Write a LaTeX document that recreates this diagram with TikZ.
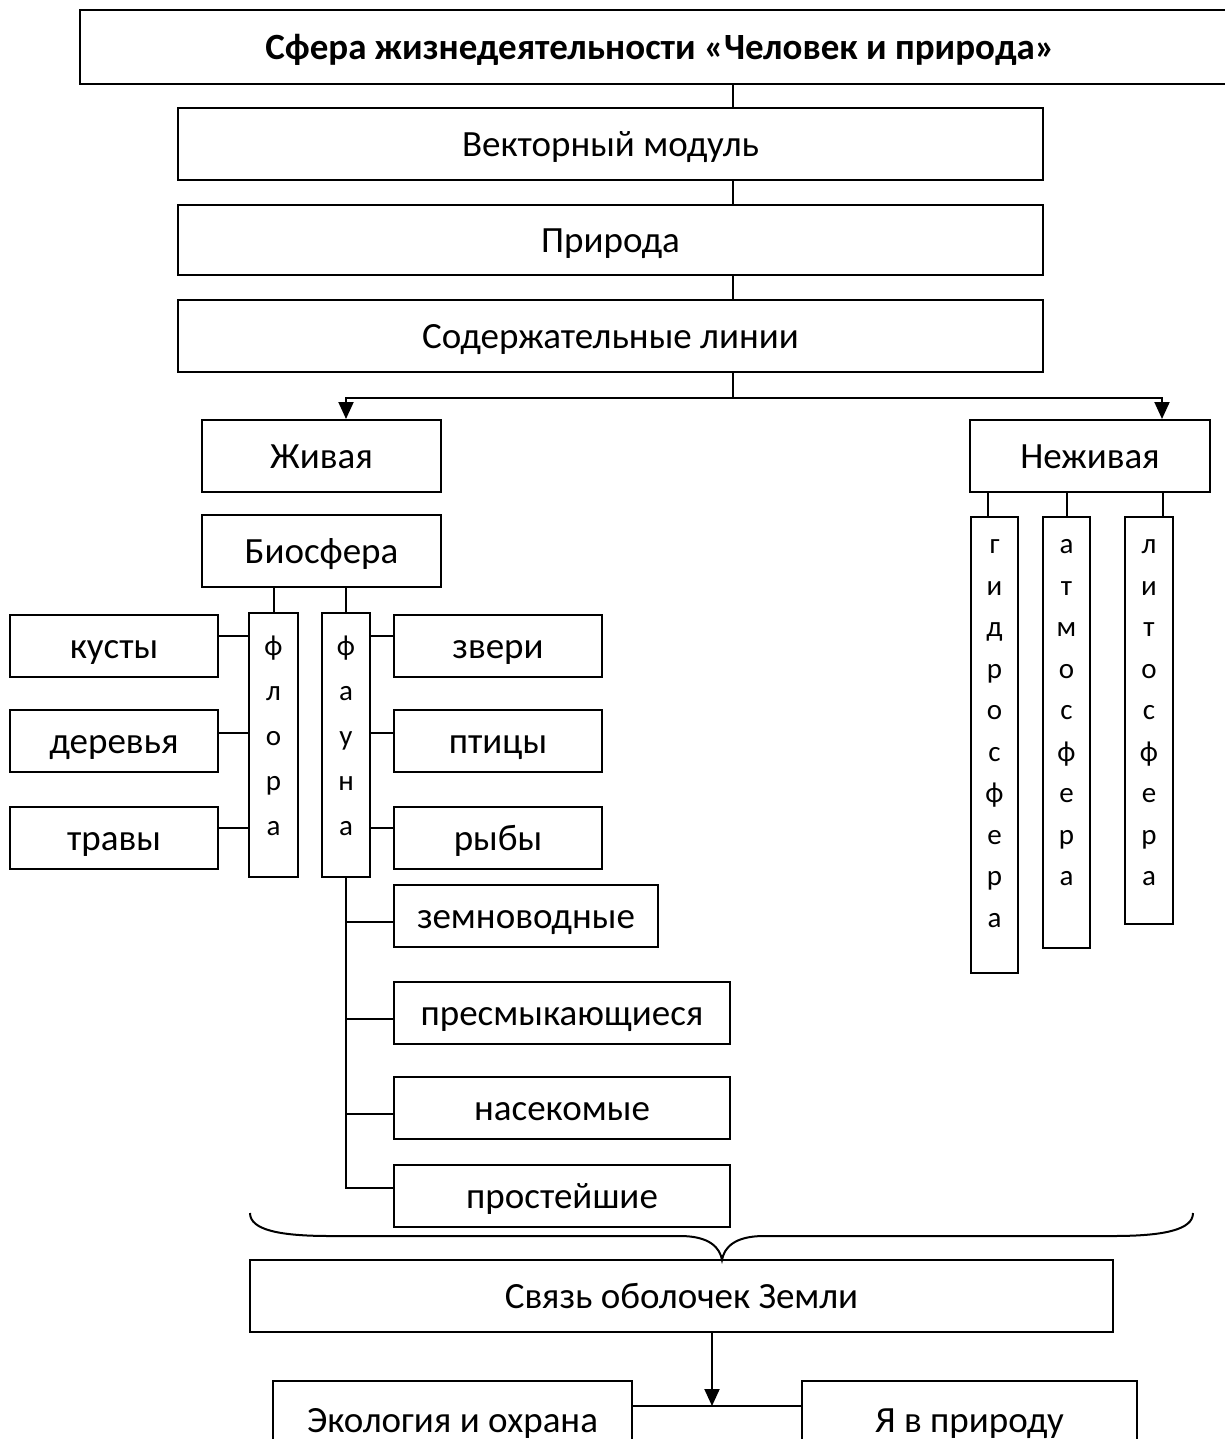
\documentclass[tikz,border=0pt]{standalone}
\usepackage{fontspec}
\setmainfont{Carlito}
\usetikzlibrary{arrows.meta}

\begin{document}
\begin{tikzpicture}[x=0.5pt,y=-0.5pt,line width=1pt]
\tikzstyle{every node}+=[font=\fontsize{18.5}{22}\selectfont]
\tikzstyle{box}=[draw,rectangle,inner sep=0pt,text height=15.5pt,text depth=3pt]
\tikzstyle{vbox}=[draw,rectangle,inner sep=0pt]
\tikzstyle{letters}=[align=center,inner sep=0pt,anchor=north,font=\fontsize{14.5}{22.5}\selectfont]
\tikzstyle{arr}=[-{Triangle[length=8.5pt,width=7.5pt]}]
\fill[white] (0,0) rectangle (1225,1439);
\useasboundingbox (0,0) rectangle (1225,1439);
% top chain
\node[box,minimum width=580pt,minimum height=37pt,font=\bfseries\fontsize{18.5}{22}\selectfont] (sfera) at (660,47) {Сфера жизнедеятельности «Человек и природа»};
\node[box,minimum width=432.5pt,minimum height=36pt] (vector) at (610.5,144) {Векторный модуль};
\node[box,minimum width=432.5pt,minimum height=35pt] (priroda) at (610.5,240) {Природа};
\node[box,minimum width=432.5pt,minimum height=36pt] (linii) at (610.5,336) {Содержательные линии};
\coordinate (fork) at (733,398);
\draw (sfera.south -| fork) -- (vector.north -| fork);
\draw (vector.south -| fork) -- (priroda.north -| fork);
\draw (priroda.south -| fork) -- (linii.north -| fork);
\draw (linii.south -| fork) -- (fork);
% two branches
\node[box,minimum width=119.5pt,minimum height=36pt] (zhivaya) at (321.5,456) {Живая};
\node[box,minimum width=120pt,minimum height=36pt] (nezhivaya) at (1090,456) {Неживая};
\draw[arr] (fork) -| ([xshift=12.25pt]zhivaya.north);
\draw[arr] (fork) -| ([xshift=36pt]nezhivaya.north);
% biosphere
\node[box,minimum width=119.5pt,minimum height=36pt] (bio) at (321.5,551) {Биосфера};
\node[vbox,minimum width=24.5pt,minimum height=132pt,
  label={[letters,label distance=-5.25pt,font=\fontsize{14.5}{22.5}\selectfont]north:\strut ф\\л\\о\\р\\а}] (flora) at (273.5,745) {};
\node[vbox,minimum width=24pt,minimum height=132pt,
  label={[letters,label distance=-5.25pt,font=\fontsize{14.5}{22.5}\selectfont]north:\strut ф\\а\\у\\н\\а}] (fauna) at (346,745) {};
\draw (flora.north) -- (flora.north |- bio.south);
\draw (fauna.north) -- (fauna.north |- bio.south);
% flora
\node[box,minimum width=104pt,minimum height=31pt] (kusty) at (114,646) {кусты};
\node[box,minimum width=104pt,minimum height=31pt] (derevya) at (114,741) {деревья};
\node[box,minimum width=104pt,minimum height=31pt] (travy) at (114,838) {травы};
\draw ([yshift=5pt]kusty.east) -- ([yshift=5pt]kusty.east -| flora.west);
\draw ([yshift=4pt]derevya.east) -- ([yshift=4pt]derevya.east -| flora.west);
\draw ([yshift=5pt]travy.east) -- ([yshift=5pt]travy.east -| flora.west);
% fauna
\node[box,minimum width=104pt,minimum height=31pt] (zveri) at (498,646) {звери};
\node[box,minimum width=104pt,minimum height=31pt] (ptitsy) at (498,741) {птицы};
\node[box,minimum width=104pt,minimum height=31pt] (ryby) at (498,838) {рыбы};
\draw ([yshift=5pt]zveri.west) -- ([yshift=5pt]zveri.west -| fauna.east);
\draw ([yshift=4pt]ptitsy.west) -- ([yshift=4pt]ptitsy.west -| fauna.east);
\draw ([yshift=5pt]ryby.west) -- ([yshift=5pt]ryby.west -| fauna.east);
\node[box,minimum width=132pt,minimum height=31pt] (zemno) at (526,916) {земноводные};
\node[box,minimum width=168pt,minimum height=31pt] (presmyk) at (562,1013) {пресмыкающиеся};
\node[box,minimum width=168pt,minimum height=31pt] (nasek) at (562,1108) {насекомые};
\node[box,minimum width=168pt,minimum height=31pt] (prost) at (562,1196) {простейшие};
\draw (fauna.south) |- ([yshift=4pt]prost.west);
\draw ([yshift=-3pt]zemno.west) -- ([yshift=-3pt]zemno.west -| fauna.south);
\draw ([yshift=-3pt]presmyk.west) -- ([yshift=-3pt]presmyk.west -| fauna.south);
\draw ([yshift=-3pt]nasek.west) -- ([yshift=-3pt]nasek.west -| fauna.south);
% non-living
\node[vbox,minimum width=23.5pt,minimum height=228pt,
  label={[letters,label distance=-3.9pt,font=\fontsize{14.5}{20.75}\selectfont]north:\strut г\\и\\д\\р\\о\\с\\ф\\е\\р\\а}] (gidro) at (994.5,745) {};
\node[vbox,minimum width=23.5pt,minimum height=215.5pt,
  label={[letters,label distance=-3.9pt,font=\fontsize{14.5}{20.75}\selectfont]north:\strut а\\т\\м\\о\\с\\ф\\е\\р\\а}] (atmo) at (1066.5,732.5) {};
\node[vbox,minimum width=24pt,minimum height=203.5pt,
  label={[letters,label distance=-3.9pt,font=\fontsize{14.5}{20.75}\selectfont]north:\strut л\\и\\т\\о\\с\\ф\\е\\р\\а}] (lito) at (1149,720.5) {};
\draw ([xshift=-3.25pt]gidro.north) -- ([xshift=-3.25pt]gidro.north |- nezhivaya.south);
\draw (atmo.north) -- (atmo.north |- nezhivaya.south);
\draw ([xshift=7pt]lito.north) -- ([xshift=7pt]lito.north |- nezhivaya.south);
% brace
\draw (250,1213) .. controls (250,1230) and (280,1236) .. (330,1236) -- (680,1236)
  .. controls (710,1236) and (720,1248) .. (722,1260)
  .. controls (724,1248) and (734,1236) .. (764,1236) -- (1113,1236)
  .. controls (1163,1236) and (1193,1230) .. (1193,1213);
% bottom
\node[box,minimum width=431.5pt,minimum height=36pt] (svyaz) at (681.5,1296) {Связь оболочек Земли};
\node[box,minimum width=179.5pt,minimum height=39pt] (eco) at (452.5,1420) {Экология и охрана};
\node[box,minimum width=167.5pt,minimum height=39pt] (ya) at (969.5,1420) {Я в природу};
\coordinate (join) at (712,1406);
\draw[arr] (svyaz.south -| join) -- (join);
\draw (eco.east |- join) -- (ya.west |- join);
\end{tikzpicture}
\end{document}
